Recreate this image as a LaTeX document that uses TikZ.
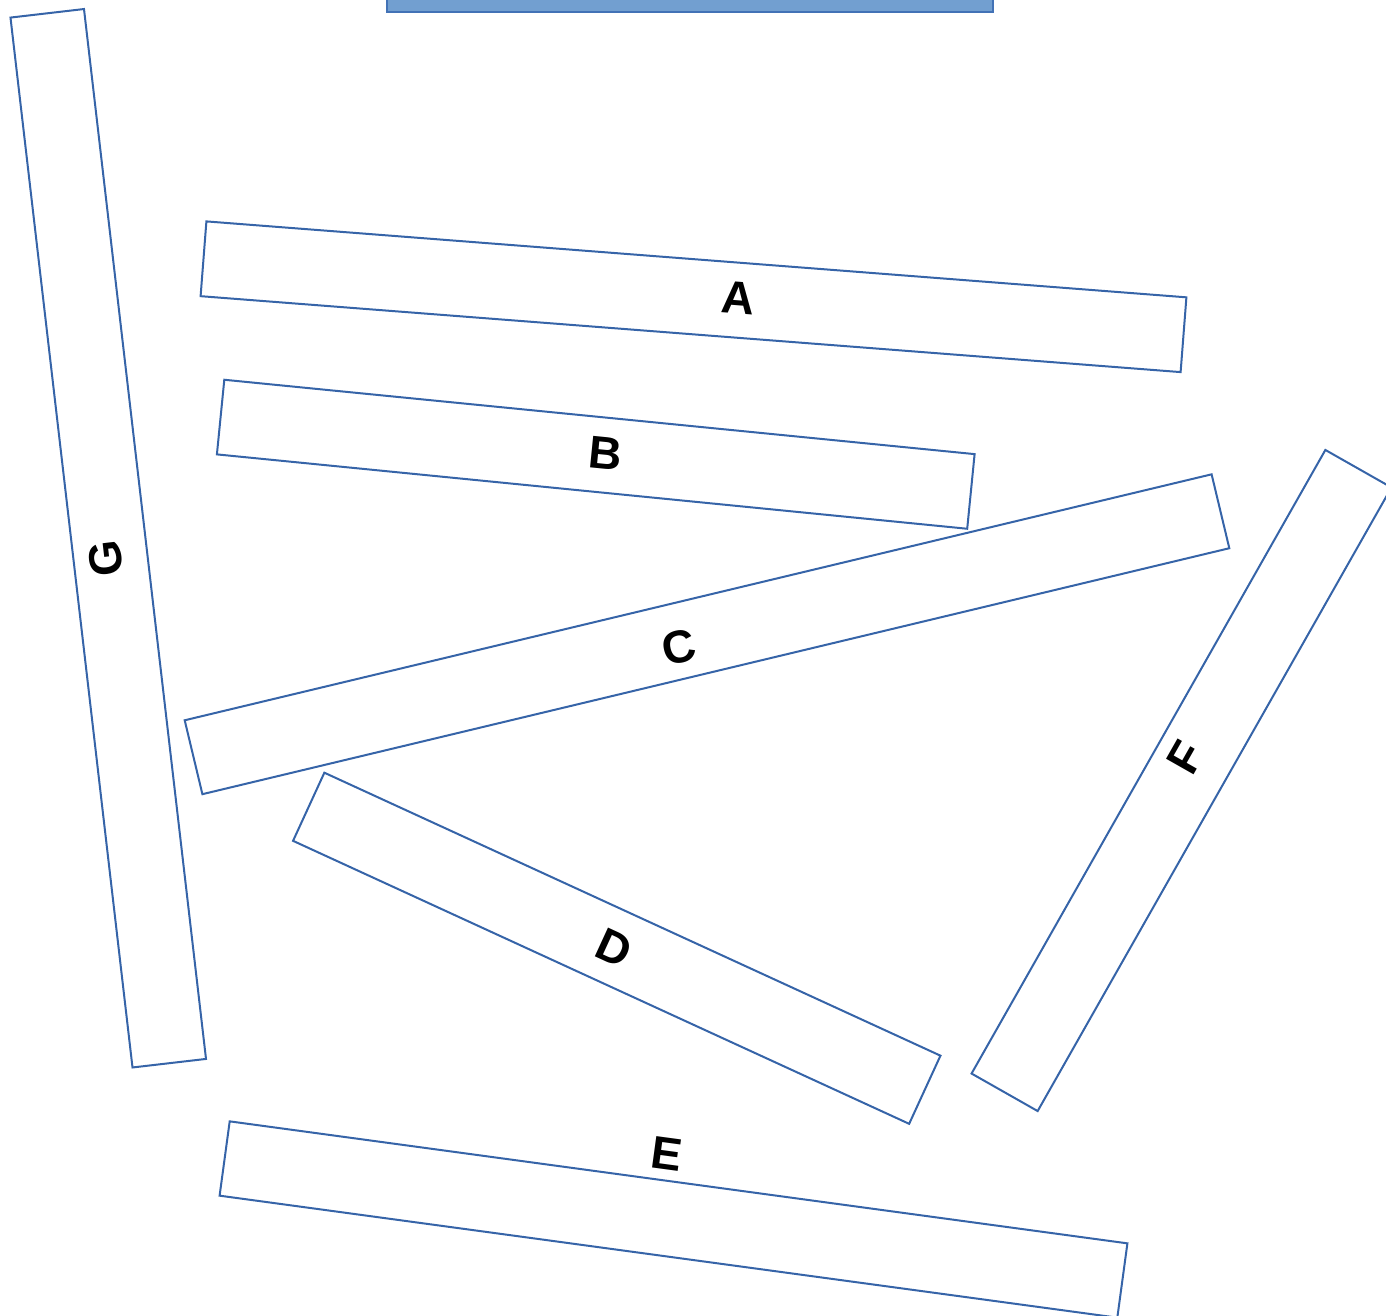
\documentclass[tikz,border=0pt]{standalone}
\usepackage{fontspec}
\setmainfont{Liberation Sans}
\definecolor{barline}{RGB}{54,100,168}
\definecolor{topfill}{RGB}{114,159,208}
\definecolor{topline}{RGB}{66,114,182}
\begin{document}
\begin{tikzpicture}[x=1pt,y=-1pt,
  bar/.style={draw=barline, line width=2pt, fill=white, rectangle, inner sep=0pt, minimum height=75pt},
  lab/.style={font=\fontsize{46}{46}\selectfont\bfseries, inner sep=0pt, text=black}]
\useasboundingbox (0,0) rectangle (1386,1316);
\clip (0,0) rectangle (1386,1316);
\node[draw=topline, fill=topfill, line width=1.2pt, rectangle, inner sep=0pt, minimum width=606pt, minimum height=32pt] (top) at (690,-4) {};
\node[bar, minimum width=1057pt, minimum height=74pt, rotate=96.63] (G) at (108.25,538.25) {};
\node[bar, minimum width=983pt, rotate=-4.43] (A) at (693.5,296.75) {};
\node[bar, minimum width=754pt, rotate=-5.66] (B) at (595.75,454.25) {};
\node[bar, minimum width=1056pt, minimum height=76pt, rotate=13.47] (C) at (707,634.25) {};
\node[bar, minimum width=678pt, rotate=-24.67] (D) at (616.75,948.25) {};
\node[bar, minimum width=906pt, rotate=-7.74] (E) at (673.5,1219.5) {};
\node[bar, minimum width=717pt, minimum height=76pt, rotate=60.43] (F) at (1181.5,780.5) {};
\node[lab, rotate=-4.43] (lA) at (738,298) {A};
\node[lab, rotate=-5.66] (lB) at (606,453) {B};
\node[lab, rotate=13.47] (lC) at (679,647) {C};
\node[lab, rotate=-24.67] (lD) at (614,948) {D};
\node[lab, rotate=-7.74] (lE) at (667,1154) {E};
\node[lab, rotate=60.43] (lF) at (1186,757) {F};
\node[lab, rotate=96.63] (lG) at (106,559) {G};
\end{tikzpicture}
\end{document}
